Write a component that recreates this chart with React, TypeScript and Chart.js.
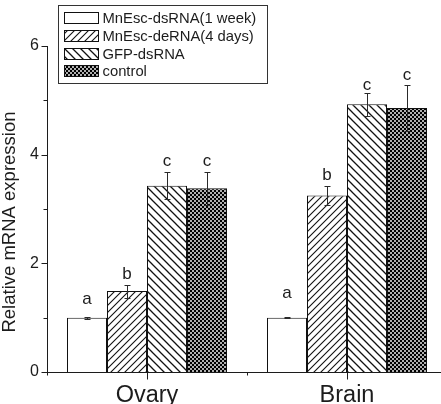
import { useEffect, useRef } from 'react';
import { Chart, registerables } from 'chart.js';

Chart.register(...registerables);

// Tissues on the x axis
const tissues = ['Ovary', 'Brain'];

// Treatment groups
const seriesNames = ['MnEsc-dsRNA(1 week)', 'MnEsc-deRNA(4 days)', 'GFP-dsRNA', 'control'];

// Relative mRNA expression (mean) per tissue
const week1 = [1.0, 1.0];
const days4 = [1.49, 3.25];
const gfp = [3.43, 4.93];
const control = [3.38, 4.86];

// Standard errors
const week1Err = [0.02, 0.01];
const days4Err = [0.12, 0.17];
const gfpErr = [0.25, 0.21];
const controlErr = [0.3, 0.42];

// Significance letters
const week1Sig = ['a', 'a'];
const days4Sig = ['b', 'b'];
const gfpSig = ['c', 'c'];
const controlSig = ['c', 'c'];

// Labelled y ticks
const yTickLabels = [0, 2, 4, 6];

const yTitle = 'Relative mRNA expression';

const FONT = '"Liberation Sans", Arial, Helvetica, sans-serif';
const INK = '#1c1c1c';

// gap (px) between the top of an error bar and its letter, per tissue / series
const letterGap = [
  [14, 7, 7, 7],
  [20, 7, 4, 6],
];

function makeTile(size: number, draw: (c: CanvasRenderingContext2D, s: number) => void) {
  const tile = document.createElement('canvas');
  tile.width = size;
  tile.height = size;
  const c = tile.getContext('2d')!;
  c.fillStyle = '#ffffff';
  c.fillRect(0, 0, size, size);
  draw(c, size);
  const pattern = c.createPattern(tile, 'repeat');
  return pattern as CanvasPattern;
}

function forwardHatch() {
  return makeTile(7, (c, s) => {
    c.strokeStyle = '#111';
    c.lineWidth = 1.1;
    c.beginPath();
    c.moveTo(0, s); c.lineTo(s, 0);
    c.moveTo(-1, 1); c.lineTo(1, -1);
    c.moveTo(s - 1, s + 1); c.lineTo(s + 1, s - 1);
    c.stroke();
  });
}

function backHatch() {
  return makeTile(8, (c, s) => {
    c.strokeStyle = '#111';
    c.lineWidth = 1.3;
    c.beginPath();
    c.moveTo(0, 0); c.lineTo(s, s);
    c.moveTo(-1, s - 1); c.lineTo(1, s + 1);
    c.moveTo(s - 1, -1); c.lineTo(s + 1, 1);
    c.stroke();
  });
}

function checker() {
  return makeTile(4, (c) => {
    c.fillStyle = '#b0b0b0';
    c.fillRect(0, 0, 4, 4);
    c.fillStyle = '#000';
    c.fillRect(0, 0, 2, 2);
    c.fillRect(2, 2, 2, 2);
  });
}

export default function App() {
  const canvasRef = useRef<HTMLCanvasElement | null>(null);

  useEffect(() => {
    const canvas = canvasRef.current;
    if (!canvas) return;

    const fills = ['#ffffff', forwardHatch(), backHatch(), checker()];
    const values = [week1, days4, gfp, control];
    const errors = [week1Err, days4Err, gfpErr, controlErr];
    const letters = [week1Sig, days4Sig, gfpSig, controlSig];

    const decorations = {
      id: 'decorations',
      afterDatasetsDraw(chart: any) {
        const { ctx } = chart;
        const y = chart.scales.y;
        ctx.save();
        chart.data.datasets.forEach((ds: any, di: number) => {
          const meta = chart.getDatasetMeta(di);
          meta.data.forEach((bar: any, i: number) => {
            const v = ds.data[i] as number;
            const e = errors[di][i];
            const cx = Math.round(bar.x) + 0.5;
            const top = Math.round(y.getPixelForValue(v + e)) + 0.5;
            const bot = Math.round(y.getPixelForValue(v - e)) + 0.5;
            ctx.strokeStyle = '#2a2a2a';
            ctx.lineWidth = 1;
            ctx.beginPath();
            ctx.moveTo(cx, top); ctx.lineTo(cx, bot);
            ctx.moveTo(cx - 3, top); ctx.lineTo(cx + 3, top);
            ctx.moveTo(cx - 3, bot); ctx.lineTo(cx + 3, bot);
            ctx.stroke();

            ctx.fillStyle = INK;
            ctx.font = `17px ${FONT}`;
            ctx.textAlign = 'center';
            ctx.textBaseline = 'alphabetic';
            ctx.fillText(letters[di][i], bar.x, top - letterGap[i][di]);
          });
        });
        ctx.restore();
      },
      afterDraw(chart: any) {
        const { ctx, chartArea } = chart;
        const x = chart.scales.x;
        const y = chart.scales.y;
        ctx.save();
        ctx.strokeStyle = INK;
        ctx.lineWidth = 1;

        // y axis ticks: long on labelled values, short in between
        const left = Math.round(chartArea.left) + 0.5;
        ctx.beginPath();
        for (let v = y.min; v <= y.max; v += 1) {
          const py = Math.round(y.getPixelForValue(v)) + 0.5;
          const len = yTickLabels.includes(v) ? 6 : 4;
          ctx.moveTo(left - len, py);
          ctx.lineTo(left, py);
        }
        // x axis ticks: category centres and category boundaries
        const bottom = Math.round(chartArea.bottom) + 0.5;
        const centres = tissues.map((_, i) => x.getPixelForTick(i));
        centres.forEach((px: number) => {
          const p = Math.round(px) + 0.5;
          ctx.moveTo(p, bottom);
          ctx.lineTo(p, bottom + 7);
        });
        const bounds = [chartArea.left, (centres[0] + centres[1]) / 2];
        bounds.forEach((px: number) => {
          const p = Math.round(px) + 0.5;
          ctx.moveTo(p, bottom);
          ctx.lineTo(p, bottom + 3);
        });
        ctx.stroke();

        // y axis title
        ctx.save();
        ctx.translate(10, (chartArea.top + chartArea.bottom) / 2 + 13);
        ctx.rotate(-Math.PI / 2);
        ctx.fillStyle = INK;
        ctx.font = `18.5px ${FONT}`;
        ctx.textAlign = 'center';
        ctx.textBaseline = 'middle';
        ctx.fillText(yTitle, 0, 0);
        ctx.restore();

        // legend box
        const bx = 58.5, by = 5.5, bw = 209, bh = 78;
        ctx.fillStyle = '#ffffff';
        ctx.fillRect(bx, by, bw, bh);
        ctx.strokeStyle = '#333';
        ctx.strokeRect(bx, by, bw, bh);
        seriesNames.forEach((name, i) => {
          const rowY = 12 + i * 17.8;
          const sy = Math.round(rowY) + 0.5;
          ctx.fillStyle = fills[i] as any;
          ctx.fillRect(64.5, sy, 34, 11);
          ctx.strokeStyle = '#111';
          ctx.strokeRect(64.5, sy, 34, 11);
          ctx.fillStyle = INK;
          ctx.font = `14.8px ${FONT}`;
          ctx.textAlign = 'left';
          ctx.textBaseline = 'middle';
          ctx.fillText(name, 102.5, sy + 6);
        });
        ctx.restore();
      },
    };

    const chart = new Chart(canvas, {
      type: 'bar',
      data: {
        labels: tissues,
        datasets: seriesNames.map((name, i) => ({
          label: name,
          data: values[i],
          backgroundColor: fills[i] as any,
          borderColor: '#111',
          borderWidth: 1,
          categoryPercentage: 0.8,
          barPercentage: 1.0,
        })),
      },
      options: {
        responsive: false,
        animation: false,
        devicePixelRatio: 1,
        layout: { padding: { top: 46, left: 0, right: 0, bottom: 0 } },
        plugins: {
          legend: { display: false },
          tooltip: { enabled: false },
        },
        scales: {
          x: {
            type: 'category',
            offset: true,
            grid: { display: false, drawTicks: false },
            border: { display: true, color: INK, width: 1 },
            ticks: {
              color: INK,
              padding: 9,
              font: { family: FONT, size: 23.5 },
              maxRotation: 0,
            },
            afterFit(scale: any) {
              scale.height = 32;
            },
          },
          y: {
            min: 0,
            max: 6,
            grid: { display: false, drawTicks: false },
            border: { display: true, color: INK, width: 1 },
            ticks: {
              stepSize: 1,
              color: INK,
              padding: 8,
              font: { family: FONT, size: 16 },
              callback: (v: any) => (yTickLabels.includes(Number(v)) ? String(v) : ''),
            },
            afterFit(scale: any) {
              scale.width = 47;
            },
          },
        },
      },
      plugins: [decorations],
    });

    return () => chart.destroy();
  }, []);

  return (
    <div
      style={{
        position: 'fixed',
        left: 0,
        top: 0,
        width: 441,
        height: 404,
        overflow: 'hidden',
        background: '#ffffff',
      }}
    >
      <canvas ref={canvasRef} width={447} height={404} style={{ display: 'block' }} />
    </div>
  );
}
